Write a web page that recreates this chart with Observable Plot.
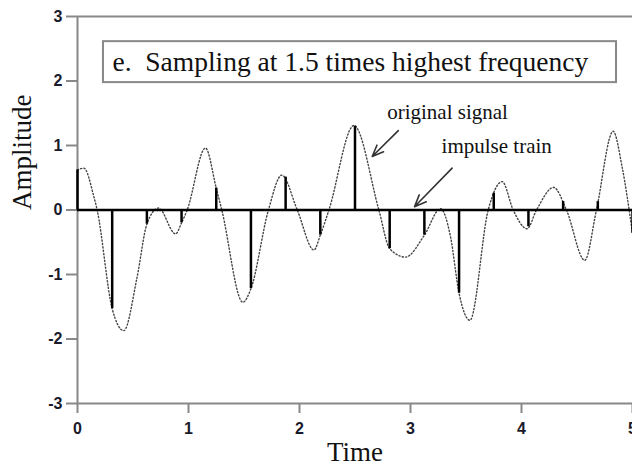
<!DOCTYPE html>
<html><head><meta charset="utf-8">
<script src="https://cdn.jsdelivr.net/npm/d3@7"></script>
<script src="https://cdn.jsdelivr.net/npm/@observablehq/plot@0.6"></script>
<style>body{margin:0;background:#fff}</style>
</head><body><div id="chart"></div>
<script>
// Impulse train (samples)
const sampleTimes = [0, 0.3125, 0.625, 0.9375, 1.25, 1.5625, 1.875, 2.1875, 2.5, 2.8125, 3.125, 3.4375, 3.75, 4.0625, 4.375, 4.6875, 5.0];
const sampleValues = [0.62, -1.53, -0.22, -0.20, 0.34, -1.22, 0.51, -0.39, 1.30, -0.60, -0.39, -1.29, 0.26, -0.26, 0.13, 0.13, -0.36];
// Original signal (traced points)
const signalTimes = [0, 0.057, 0.147, 0.177, 0.3125, 0.417, 0.537, 0.625, 0.73, 0.883, 0.9375, 0.988, 1.153, 1.25, 1.30, 1.49, 1.5625, 1.72, 1.84, 1.98, 2.13, 2.1875, 2.265, 2.49, 2.715, 2.8125, 2.955, 3.125, 3.27, 3.36, 3.4375, 3.535, 3.70, 3.826, 3.925, 4.05, 4.135, 4.29, 4.405, 4.57, 4.675, 4.826, 4.906, 5.0];
const signalValues = [0.62, 0.65, 0.21, 0, -1.53, -1.87, -1.04, -0.22, 0.03, -0.37, -0.20, 0, 0.96, 0.34, 0, -1.43, -1.22, 0, 0.54, 0, -0.62, -0.39, 0, 1.31, 0, -0.60, -0.73, -0.39, 0.02, -0.41, -1.29, -1.71, 0, 0.44, 0, -0.29, 0, 0.35, 0, -0.78, 0, 1.22, 0.67, -0.36];
const xTicks = [0, 1, 2, 3, 4, 5];
const yTicks = [-3, -2, -1, 0, 1, 2, 3];
const xLabel = "Time";
const yLabel = "Amplitude";
const titleText = "e.\u00a0 Sampling at 1.5 times highest frequency";
// Annotations (data coordinates)
const titleBox = [{x1: 0.234, x2: 4.856, y1: 1.975, y2: 2.61}];
const titleLabel = [{x: 0.315, y: 2.29, text: titleText}];
const noteLabels = [
  {x: 2.79, y: 1.52, text: "original signal"},
  {x: 3.28, y: 0.99, text: "impulse train"}
];
const noteArrows = [
  {x1: 2.89, y1: 1.23, x2: 2.655, y2: 0.83},
  {x1: 3.375, y1: 0.65, x2: 3.036, y2: 0.05}
];

const samples = sampleTimes.map((t, i) => ({t, v: sampleValues[i]}));
const signal = signalTimes.map((t, i) => ({t, v: signalValues[i]}));

const serif = "Liberation Serif, Times New Roman, serif";
const fmt = d => String(d);

const chart = Plot.plot({
  width: 632, height: 470,
  marginLeft: 77, marginRight: 0, marginTop: 16, marginBottom: 67,
  x: {domain: [0, 5]},
  y: {domain: [-3, 3]},
  style: {fontFamily: "Liberation Sans, Arial, sans-serif", background: "white"},
  marks: [
    Plot.ruleY([-3, 3], {stroke: "#888", strokeWidth: 2}),
    Plot.ruleX([0], {stroke: "#888", strokeWidth: 2}),
    Plot.axisY({ticks: yTicks, tickFormat: fmt, tickSize: 11, tickPadding: 4, fontSize: 16, fontWeight: "bold", stroke: "#888", strokeWidth: 2, fill: "#1a1a2a", label: null}),
    Plot.axisX({ticks: xTicks, tickFormat: fmt, tickSize: 10, tickPadding: 9, fontSize: 16, fontWeight: "bold", stroke: "#888", strokeWidth: 2, fill: "#1a1a2a", label: null}),
    Plot.line(signal, {x: "t", y: "v", curve: "monotone-x", stroke: "#444", strokeWidth: 1.4, strokeDasharray: "1.2,2.2"}),
    Plot.ruleY([0], {stroke: "black", strokeWidth: 2.5}),
    Plot.ruleX(samples, {x: "t", y1: 0, y2: "v", stroke: "black", strokeWidth: 2.5}),
    Plot.rect(titleBox, {x1: "x1", x2: "x2", y1: "y1", y2: "y2", fill: "white", stroke: "#888", strokeWidth: 2}),
    Plot.text(titleLabel, {x: "x", y: "y", text: "text", textAnchor: "start", fontSize: 27.5, fontFamily: serif, fill: "#111"}),
    Plot.text(noteLabels, {x: "x", y: "y", text: "text", textAnchor: "start", fontSize: 21, fontFamily: serif, fill: "#111"}),
    Plot.arrow(noteArrows, {x1: "x1", y1: "y1", x2: "x2", y2: "y2", stroke: "#333", strokeWidth: 1.6, headLength: 12, headAngle: 45}),
    Plot.text([yLabel], {frameAnchor: "left", dx: -55, rotate: -90, fontSize: 27, fontFamily: serif, fill: "#111"}),
    Plot.text([xLabel], {frameAnchor: "bottom", dy: 57, fontSize: 27, fontFamily: serif, fill: "#111"})
  ]
});
document.getElementById("chart").appendChild(chart);
</script>
</body></html>
